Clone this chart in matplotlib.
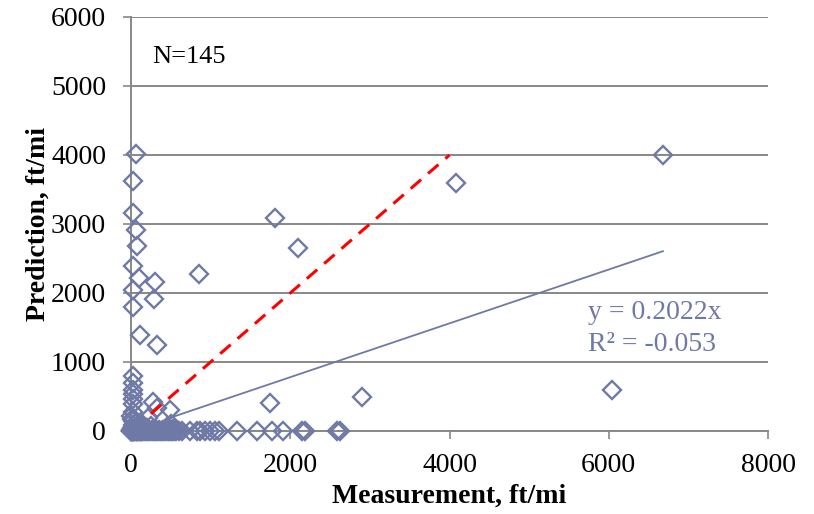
import matplotlib
matplotlib.use("Agg")
import matplotlib.pyplot as plt
import numpy as np

# measured vs predicted values, ft/mi
measured = [
    60, 25, 25, 65, 70, 25, 105, 305, 25, 290, 25, 115, 325, 850, 1810, 2100,
    4080, 6680, 6040, 2900, 1750,
    25, 25, 25, 25, 25, 25, 25, 280, 323, 490, 218, 60, 150,
    10, 30, 60, 100, 150, 200, 250, 300, 450, 500, 40, 120, 180, 350, 80,
    0, 0, 5, 10, 15, 20, 25, 30, 40, 50, 60, 70, 80, 90, 100, 110, 120, 130,
    140, 150, 170, 190, 210, 230, 250, 270, 290, 310, 330, 350, 370, 390,
    420, 440, 460, 480, 500, 520, 540, 560, 600, 640, 740, 830, 870, 930,
    990, 1050, 1100, 1330, 1580, 1770, 1910, 2150, 2180, 2590, 2620,
    5, 15, 35, 45, 55, 75, 95, 160, 260, 400, 470, 510, 530, 20, 0, 10,
]
predicted = [
    4010, 3620, 3160, 2910, 2680, 2390, 2220, 2155, 2050, 1910, 1790, 1390, 1245, 2280, 3090, 2650,
    3590, 4000, 590, 495, 410,
    790, 690, 600, 530, 460, 390, 280, 425, 330, 305, 185, 120, 60,
    50, 80, 120, 60, 90, 40, 70, 30, 60, 100, 20, 30, 50, 20, 40,
    0, 0, 0, 0, 0, 0, 0, 0, 0, 0, 0, 0, 0, 0, 0, 0, 0, 0,
    0, 0, 0, 0, 0, 0, 0, 0, 0, 0, 0, 0, 0, 0,
    0, 0, 0, 0, 0, 0, 0, 0, 0, 0, 0, 0, 0, 0,
    0, 0, 0, 0, 0, 0, 0, 0, 0, 0, 0,
    10, 20, 30, 10, 20, 10, 30, 10, 20, 10, 20, 10, 30, 140, 220, 170,
]

equal_line_x = [250, 4000]
trend_x = [450, 6680]
trend_slope = 0.39

x_ticks = [0, 2000, 4000, 6000, 8000]
y_ticks = [0, 1000, 2000, 3000, 4000, 5000, 6000]

plt.rcParams["font.family"] = ["Liberation Serif", "DejaVu Serif"]

blue = "#6F79A6"
grey = "#888888"

fig = plt.figure(figsize=(8.14, 5.14), dpi=100)
ax = fig.add_axes([0.161, 0.1615, 0.7825, 0.8055])

ax.plot(measured, predicted, linestyle="none", marker="D", markersize=9.5,
        markerfacecolor="none", markeredgecolor=blue, markeredgewidth=1.7,
        zorder=3, clip_on=False)

ax.plot(equal_line_x, equal_line_x, color="#FF0000", linestyle=(0, (4.5, 3)),
        linewidth=2.2, zorder=4)

trend_y = [trend_slope * value for value in trend_x]
ax.plot(trend_x, trend_y, color=blue, linewidth=1.3, zorder=4)

ax.set_xlim(0, 8000)
ax.set_ylim(0, 6000)
ax.set_xticks(x_ticks)
ax.set_yticks(y_ticks)
ax.tick_params(labelsize=20, color=grey, width=1.2, length=6, direction="out")
ax.tick_params(axis="x", pad=10)
ax.tick_params(axis="y", pad=12)

ax.grid(True, axis="y", color=grey, linewidth=1.4)
ax.set_axisbelow(True)
for side in ("top", "right"):
    ax.spines[side].set_visible(False)
for side in ("left", "bottom"):
    ax.spines[side].set_color(grey)
    ax.spines[side].set_linewidth(1.4)

ax.set_xlabel("Measurement, ft/mi", fontsize=20, fontweight="bold", labelpad=4)
ax.set_ylabel("Prediction, ft/mi", fontsize=20, fontweight="bold", labelpad=0)

ax.text(0.033, 0.903, "N=145", transform=ax.transAxes, fontsize=19,
        va="center", ha="left")
ax.text(0.717, 0.287, "y = 0.2022x", transform=ax.transAxes, fontsize=20,
        va="center", ha="left", color=blue)
ax.text(0.717, 0.208, "R\u00b2 = -0.053", transform=ax.transAxes, fontsize=20,
        va="center", ha="left", color=blue)

fig.savefig("out.png", dpi=100)
